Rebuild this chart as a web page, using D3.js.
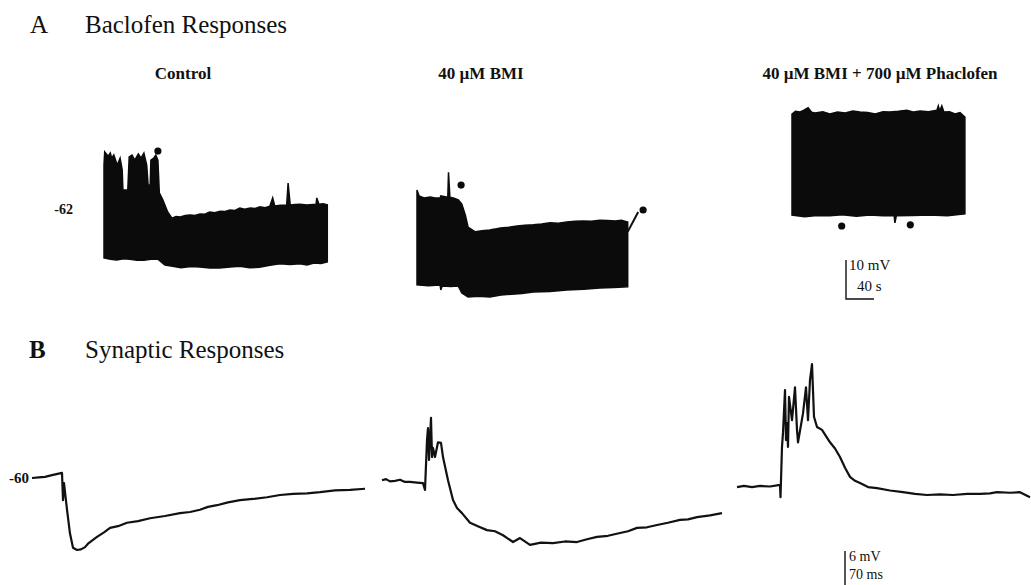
<!DOCTYPE html>
<html>
<head>
<meta charset="utf-8">
<script src="https://cdn.jsdelivr.net/npm/d3@7"></script>
<style>
  body { margin: 0; background: #fff; }
  svg text { font-family: "Liberation Serif", "Times New Roman", serif; fill: #111; }
</style>
</head>
<body>
<script>
// ---- Panel A: baclofen responses (time in s, membrane potential in mV) ----
const conditions = ["Control", "40 µM BMI", "40 µM BMI + 700 µM Phaclofen"];

const controlTop = [[0,-50.5],[1,-47.1],[6,-48.2],[9,-47.4],[11,-48.7],[14,-47.9],[19,-50.5],[23,-48.7],[26,-51.7],
  [27,-56.9],[34,-56.9],[36,-48.4],[40,-47.9],[44,-49.2],[49,-47.6],[53,-48.7],[57,-47.4],[61,-50.5],[63,-55.6],
  [66,-55.6],[67,-49.2],[71,-48.7],[74,-47.9],[77,-49.2],[79,-57.6],[84,-59.4],[91,-62.5],[97,-64.1],[103,-63.7],
  [109,-63.8],[116,-63.4],[123,-63.3],[130,-63.4],[137,-63.0],[144,-63.1],[151,-62.5],[158,-62.7],[166,-62.3],
  [173,-62.4],[180,-62.0],[187,-62.1],[194,-61.5],[201,-61.8],[209,-61.5],[216,-61.6],[223,-61.2],[230,-61.4],
  [237,-61.0],[241,-58.9],[244,-61.0],[252,-60.8],[261,-60.7],[263,-55.1],[266,-60.7],[273,-60.6],[280,-60.5],
  [290,-60.7],[303,-60.5],[304,-58.9],[307,-60.5],[313,-60.4],[319,-60.7]];
const controlBottom = [[0,-74.3],[9,-74.6],[18,-74.8],[28,-74.5],[37,-74.6],[47,-74.9],[57,-74.9],[67,-74.6],
  [77,-74.6],[87,-76.1],[98,-76.4],[110,-76.8],[124,-76.5],[137,-76.6],[151,-76.9],[165,-76.9],[180,-76.6],
  [194,-76.4],[208,-76.8],[222,-76.7],[237,-76.2],[251,-75.8],[266,-76.0],[280,-75.8],[290,-76.1],[300,-75.6],
  [310,-75.7],[319,-75.3]];

const bmiTop = [[0,-56.9],[3,-58.4],[10,-58.9],[19,-58.7],[26,-58.9],[33,-58.9],[34,-58.4],[44,-58.7],[45,-52.3],
  [47,-58.7],[53,-59.0],[59,-59.4],[64,-60.5],[69,-63.3],[73,-66.4],[83,-67.6],[93,-67.3],[104,-67.1],[111,-66.9],
  [119,-66.6],[131,-66.4],[143,-66.1],[154,-65.9],[166,-65.8],[178,-65.6],[190,-65.3],[202,-65.4],[214,-65.1],
  [226,-64.9],[237,-64.8],[249,-64.9],[261,-64.6],[272,-64.7],[283,-64.8],[292,-64.6],[301,-65.1]];
const bmiBottom = [[0,-81.2],[16,-81.4],[33,-81.2],[34,-82.5],[36,-81.5],[48,-81.6],[59,-81.5],[64,-83.3],
  [73,-84.3],[88,-84.1],[104,-84.3],[120,-83.8],[135,-83.6],[150,-83.4],[166,-83.0],[190,-82.9],[214,-82.5],
  [238,-82.3],[261,-82.0],[281,-81.9],[301,-81.7]];
const bmiWashout = [[301,-67.6],[316,-62.5]];

const phacTop = [[0,-37.4],[5,-36.7],[11,-36.9],[17,-36.4],[23,-35.8],[28,-36.9],[33,-37.1],[44,-36.8],[54,-37.4],
  [65,-36.9],[76,-37.1],[87,-36.6],[97,-36.9],[108,-37.0],[119,-37.4],[130,-36.8],[140,-36.9],[152,-36.7],
  [164,-36.4],[174,-36.9],[183,-36.6],[195,-36.8],[207,-36.4],[209,-35.3],[211,-36.6],[214,-35.3],[217,-36.9],
  [225,-36.8],[233,-37.4],[240,-37.0],[247,-38.2]];
const phacBottom = [[0,-63.3],[18,-63.7],[36,-63.4],[54,-63.5],[72,-63.2],[92,-63.6],[111,-63.3],[130,-63.5],
  [146,-63.5],[147,-65.3],[149,-63.5],[172,-63.4],[197,-63.3],[222,-63.5],[247,-63.0]];

// marker dots (drug application)
const controlDots = [[77,-46.9]];
const bmiDots = [[63,-55.6],[323,-62.0]];
const phacDots = [[71,-66.1],[169,-65.8]];

// ---- Panel B: synaptic responses (time in ms, mV) ----
const synControl = [[0,-60.0],[14,-59.9],[26,-59.8],[40,-59.5],[60,-59.1],[62,-63.9],[64,-60.9],[70,-65.6],[76,-69.8],
  [82,-72.3],[90,-72.7],[98,-72.6],[106,-72.2],[112,-71.6],[118,-71.2],[124,-70.8],[130,-70.4],[144,-69.6],
  [156,-68.8],[172,-68.5],[190,-67.9],[212,-67.6],[236,-67.1],[266,-66.7],[296,-66.2],[316,-66.0],[336,-65.6],
  [352,-65.1],[370,-64.8],[392,-64.3],[416,-63.9],[442,-63.7],[470,-63.4],[496,-63.0],[522,-62.8],[550,-62.7],
  [576,-62.5],[606,-62.2],[636,-62.1],[666,-61.9]];
const synBMI = [[0,-60.4],[8,-60.2],[16,-60.6],[26,-60.5],[36,-60.3],[46,-60.7],[56,-60.7],[70,-60.8],[82,-60.9],
  [86,-62.1],[90,-53.3],[92,-51.2],[94,-56.8],[98,-49.4],[100,-56.3],[102,-54.7],[106,-56.3],[112,-53.7],[118,-53.8],
  [122,-56.3],[132,-60.4],[142,-63.9],[150,-65.3],[160,-66.2],[176,-67.9],[194,-68.6],[210,-69.2],[226,-69.4],
  [242,-70.1],[262,-71.3],[276,-70.6],[296,-71.8],[318,-71.4],[342,-71.5],[366,-71.2],[390,-71.3],[410,-70.8],
  [430,-70.4],[452,-70.2],[476,-69.7],[492,-69.4],[510,-68.8],[530,-68.7],[550,-68.3],[572,-67.9],[596,-67.4],
  [612,-67.3],[630,-66.9],[656,-66.6],[680,-66.2]];
const synPhac = [[0,-61.6],[14,-61.4],[30,-61.6],[46,-61.4],[66,-61.5],[86,-61.2],[87,-63.4],[90,-54.5],[92,-52.0],
  [96,-44.5],[98,-53.3],[100,-50.3],[102,-54.5],[104,-45.7],[110,-49.8],[116,-44.0],[120,-51.5],[122,-53.7],
  [132,-48.6],[138,-44.0],[142,-49.8],[146,-42.7],[150,-39.9],[154,-49.2],[160,-51.0],[170,-51.5],[186,-53.7],
  [196,-54.8],[206,-56.3],[216,-58.2],[226,-59.8],[236,-60.5],[246,-60.9],[262,-61.6],[280,-61.8],[306,-62.2],
  [332,-62.5],[356,-62.8],[380,-63.0],[406,-62.9],[432,-63.0],[460,-62.8],[486,-62.8],[506,-62.7],[520,-62.5],
  [546,-62.6],[566,-62.5],[586,-63.4]];

// ---- layout ----
const width = 1031, height = 585;
const svg = d3.select("body").append("svg")
  .attr("width", width).attr("height", height);

// Panel A scales: 0.7 px per s, 3.9 px per mV
const yA = d3.scaleLinear().domain([-62, -52]).range([210, 171]);
const makeXA = x0 => d3.scaleLinear().domain([0, 40]).range([x0, x0 + 28]);
const xCtrl = makeXA(104), xBmi = makeXA(417), xPhac = makeXA(792);

// Panel B scales: 0.5 px per ms, 34 px per 6 mV
const yB = d3.scaleLinear().domain([-60, -54]).range([478, 444]);
const makeXB = x0 => d3.scaleLinear().domain([0, 70]).range([x0, x0 + 35]);
const xSyn1 = makeXB(32), xSyn2 = makeXB(382), xSyn3 = makeXB(737);

// headings
svg.append("text").attr("x", 30).attr("y", 33).attr("font-size", 25).text("A");
svg.append("text").attr("x", 85).attr("y", 33).attr("font-size", 25).text("Baclofen Responses");
svg.append("text").attr("x", 29).attr("y", 358).attr("font-size", 25).attr("font-weight", "bold").text("B");
svg.append("text").attr("x", 85).attr("y", 358).attr("font-size", 25).text("Synaptic Responses");

const labelX = [183, 481, 880];
svg.append("g").selectAll("text")
  .data(conditions)
  .join("text")
  .attr("x", (d, i) => labelX[i])
  .attr("y", 79)
  .attr("text-anchor", "middle")
  .attr("font-size", 17)
  .attr("font-weight", "bold")
  .text(d => d);

// envelope blocks of the slow recordings
function block(top, bottom, xs) {
  const line = d3.line().x(d => xs(d[0])).y(d => yA(d[1]));
  return line(top.concat(bottom.slice().reverse())) + "Z";
}
const blocks = [
  {top: controlTop, bottom: controlBottom, xs: xCtrl, dots: controlDots},
  {top: bmiTop, bottom: bmiBottom, xs: xBmi, dots: bmiDots},
  {top: phacTop, bottom: phacBottom, xs: xPhac, dots: phacDots}
];
const gA = svg.append("g");
blocks.forEach(b => {
  gA.append("path")
    .attr("d", block(b.top, b.bottom, b.xs))
    .attr("fill", "#0b0b0b")
    .attr("stroke", "#0b0b0b")
    .attr("stroke-width", 1.5)
    .attr("stroke-linejoin", "miter");
  gA.selectAll(null)
    .data(b.dots)
    .join("circle")
    .attr("cx", d => b.xs(d[0]))
    .attr("cy", d => yA(d[1]))
    .attr("r", 3.6)
    .attr("fill", "#0b0b0b");
});
gA.append("path")
  .attr("d", d3.line().x(d => xBmi(d[0])).y(d => yA(d[1]))(bmiWashout))
  .attr("fill", "none").attr("stroke", "#111").attr("stroke-width", 2);

svg.append("text").attr("x", 73).attr("y", 214).attr("text-anchor", "end")
  .attr("font-size", 14).attr("font-weight", "bold").text("-62");

// scale bar A
const sbA = {x: 846, y: 299};
svg.append("path")
  .attr("d", `M${sbA.x},${sbA.y - (yA(-62) - yA(-52))}V${sbA.y}H${sbA.x + (xCtrl(40) - xCtrl(0))}`)
  .attr("fill", "none").attr("stroke", "#111").attr("stroke-width", 1.4);
svg.append("text").attr("x", 849).attr("y", 270).attr("font-size", 15).text("10 mV");
svg.append("text").attr("x", 857).attr("y", 291).attr("font-size", 15).text("40 s");

// synaptic traces
const gB = svg.append("g");
[[synControl, xSyn1], [synBMI, xSyn2], [synPhac, xSyn3]].forEach(([data, xs]) => {
  gB.append("path")
    .attr("d", d3.line().curve(d3.curveLinear).x(d => xs(d[0])).y(d => yB(d[1]))(data))
    .attr("fill", "none")
    .attr("stroke", "#111")
    .attr("stroke-width", 2.2)
    .attr("stroke-linejoin", "round");
});
svg.append("text").attr("x", 29).attr("y", 483).attr("text-anchor", "end")
  .attr("font-size", 15).attr("font-weight", "bold").text("-60");

// scale bar B
const sbB = {x: 845, y: 585};
svg.append("path")
  .attr("d", `M${sbB.x},${sbB.y - (yB(-60) - yB(-54))}V${sbB.y + 3}H${sbB.x + (xSyn1(70) - xSyn1(0))}`)
  .attr("fill", "none").attr("stroke", "#111").attr("stroke-width", 1.4);
svg.append("text").attr("x", 849).attr("y", 561).attr("font-size", 14).text("6 mV");
svg.append("text").attr("x", 849).attr("y", 579).attr("font-size", 14).text("70 ms");
</script>
</body>
</html>
